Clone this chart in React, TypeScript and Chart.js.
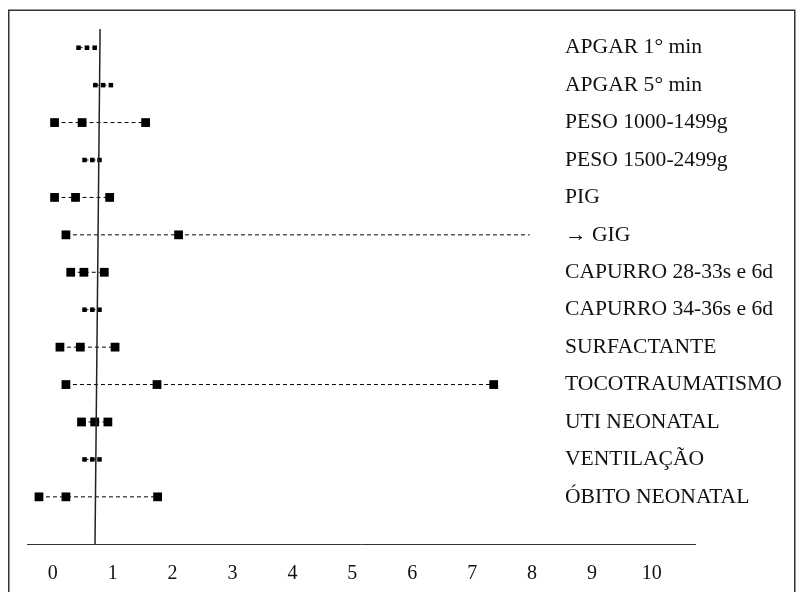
import React, { useEffect, useRef } from "react";
import { Chart, registerables } from "chart.js";

Chart.register(...registerables);

const categories = [
  "APGAR 1° min",
  "APGAR 5° min",
  "PESO 1000-1499g",
  "PESO 1500-2499g",
  "PIG",
  "→ GIG",
  "CAPURRO 28-33s e 6d",
  "CAPURRO 34-36s e 6d",
  "SURFACTANTE",
  "TOCOTRAUMATISMO",
  "UTI NEONATAL",
  "VENTILAÇÃO",
  "ÓBITO NEONATAL",
];
const lowerCI = [0.43, 0.71, 0.03, 0.53, 0.03, 0.22, 0.3, 0.53, 0.12, 0.22, 0.48, 0.53, -0.23];
const estimate = [0.57, 0.84, 0.49, 0.66, 0.38, 2.1, 0.52, 0.66, 0.46, 1.74, 0.7, 0.66, 0.22];
const upperCI = [0.7, 0.97, 1.55, 0.78, 0.95, 7.96, 0.86, 0.78, 1.04, 7.36, 0.92, 0.78, 1.75];
// rows whose upper limit is off-scale (arrow, no marker)
const openUpper = [false, false, false, false, false, true, false, false, false, false, false, false, false];
// rows drawn with the small marker
const smallMarker = [true, true, false, true, false, false, false, true, false, false, false, true, false];
const xTicks = [0, 1, 2, 3, 4, 5, 6, 7, 8, 9, 10];
const refLineTop = 0.79;
const refLineBottom = 0.705;

const X_MIN = -0.43;
const X_MAX = 10.72;
const Y_MIN = -0.5;
const Y_MAX = 13.26;
const LABEL_X = 8.55;

export default function App() {
  const ref = useRef<HTMLCanvasElement>(null);

  useEffect(() => {
    if (!ref.current) return;
    const rowSets = categories.map((_, i) => {
      const big = 6.2;
      const small = 3.2;
      const r = smallMarker[i] ? small : big;
      return {
        type: "line" as const,
        data: [
          { x: lowerCI[i], y: i },
          { x: estimate[i], y: i },
          { x: upperCI[i], y: i },
        ],
        borderColor: "#000",
        backgroundColor: "#000",
        borderWidth: 1,
        borderDash: [4, 3],
        pointStyle: "rect" as const,
        pointRadius: [r, r, openUpper[i] ? 0 : r],
        pointBorderWidth: 0,
        pointBackgroundColor: "#000",
        showLine: true,
        clip: false as const,
      };
    });
    const refSet = {
      type: "line" as const,
      data: [
        { x: refLineTop, y: Y_MIN },
        { x: refLineBottom, y: Y_MAX },
      ],
      borderColor: "#222",
      borderWidth: 1.5,
      pointRadius: 0,
      showLine: true,
      clip: false as const,
    };

    const framePlugin = {
      id: "frameAndLabels",
      beforeDraw(chart: any) {
        const ctx = chart.ctx;
        ctx.save();
        ctx.fillStyle = "#fff";
        ctx.fillRect(0, 0, chart.width, chart.height);
        ctx.strokeStyle = "#333";
        ctx.lineWidth = 1.5;
        ctx.strokeRect(8.75, 10.25, 786, 700);
        ctx.restore();
      },
      afterDatasetsDraw(chart: any) {
        const ctx = chart.ctx;
        const xs = chart.scales.x;
        const ys = chart.scales.y;
        ctx.save();
        ctx.fillStyle = "#111";
        ctx.font = '21.6px "Liberation Serif"';
        ctx.textBaseline = "middle";
        ctx.textAlign = "left";
        categories.forEach((c, i) => {
          ctx.fillText(c, xs.getPixelForValue(LABEL_X), ys.getPixelForValue(i));
        });
        ctx.restore();
      },
    };

    const chart = new Chart(ref.current, {
      type: "scatter",
      data: { datasets: [refSet, ...rowSets] as any },
      options: {
        animation: false,
        responsive: false,
        devicePixelRatio: 1,
        layout: { padding: { left: 27, right: 102, top: 29, bottom: 16 } },
        plugins: { legend: { display: false }, tooltip: { enabled: false } },
        scales: {
          x: {
            type: "linear",
            min: X_MIN,
            max: X_MAX,
            afterBuildTicks: (scale: any) => {
              scale.ticks = xTicks.map((v) => ({ value: v }));
            },
            grid: { display: false, drawTicks: false },
            border: { display: true, color: "#333", width: 1 },
            ticks: {
              color: "#111",
              padding: 18,
              font: { family: "Liberation Serif", size: 20 },
              maxRotation: 0,
              autoSkip: false,
            },
          },
          y: {
            type: "linear",
            min: Y_MIN,
            max: Y_MAX,
            reverse: true,
            display: false,
          },
        },
      },
      plugins: [framePlugin],
    });
    return () => chart.destroy();
  }, []);

  return (
    <div style={{ position: "fixed", left: 0, top: 0, width: 797, height: 592, overflow: "hidden", background: "#fff" }}>
      <canvas ref={ref} width={797} height={620} />
    </div>
  );
}
